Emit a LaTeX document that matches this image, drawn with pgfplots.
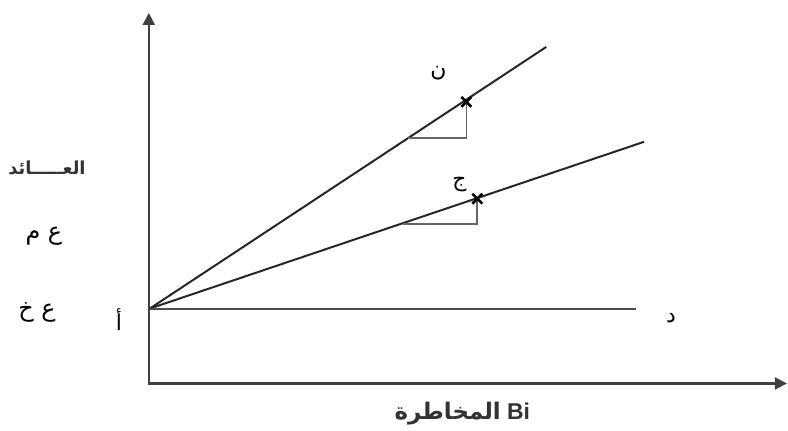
\documentclass[border=0pt]{standalone}
\usepackage{pgfplots}
\pgfplotsset{compat=1.18}
\usepackage{fontspec}
\usetikzlibrary{arrows.meta}
\setmainfont{Liberation Sans}
\TeXXeTstate=1
\newfontfamily\arabicfont[Script=Arabic]{DejaVu Sans}
\begin{document}
\begin{tikzpicture}
\begin{axis}[
  scale only axis, width=788bp, height=431bp,
  xmin=0, xmax=788, ymin=0, ymax=431,
  hide axis, clip=false,
]
% bounding box
\addplot[draw=none] coordinates {(0,0) (788,431)};
% axes
\addplot[line width=2.2pt, color=black!75, -{Triangle[length=12bp,width=12bp]}] coordinates {(149,46) (149,418)};
\addplot[line width=2.2pt, color=black!75, -{Triangle[length=12bp,width=12bp]}] coordinates {(148,47) (788,47)};
% lines
\addplot[line width=2pt, color=black!85] coordinates {(150,122) (547,384)};
\addplot[line width=2pt, color=black!85] coordinates {(150,122) (645,289)};
\addplot[line width=2pt, color=black!70] coordinates {(150,122) (637,122)};
% triangles
\addplot[line width=1.7pt, color=black!60] coordinates {(409,293) (467,293) (467,329)};
\addplot[line width=1.7pt, color=black!60] coordinates {(404,207) (478,207) (478,232)};
% crosses
\addplot[only marks, mark=x, mark size=7bp, mark options={line width=2.6pt, color=black}] coordinates {(467,329) (478,232)};
% labels
\node[font=\arabicfont\bfseries\fontsize{18}{18}\selectfont, color=black!80] at (axis cs:47,263) {\beginR العـــــائد\endR};
\node[font=\arabicfont\fontsize{24}{24}\selectfont] at (axis cs:44,194) {\beginR ع م\endR};
\node[font=\arabicfont\fontsize{24}{24}\selectfont] at (axis cs:37,118) {\beginR ع خ\endR};
\node[font=\arabicfont\fontsize{22}{22}\selectfont] at (axis cs:119,111) {\beginR أ\endR};
\node[font=\arabicfont\fontsize{22}{22}\selectfont] at (axis cs:672,112) {\beginR د\endR};
\node[font=\arabicfont\fontsize{22}{22}\selectfont] at (axis cs:439,358) {\beginR ن\endR};
\node[font=\arabicfont\fontsize{22}{22}\selectfont] at (axis cs:460,246) {\beginR ج\endR};
\node[font=\bfseries\fontsize{23}{23}\selectfont, color=black!80] at (axis cs:463,17) {{\arabicfont\beginR المخاطرة\endR} Bi};
\end{axis}
\end{tikzpicture}
\end{document}
